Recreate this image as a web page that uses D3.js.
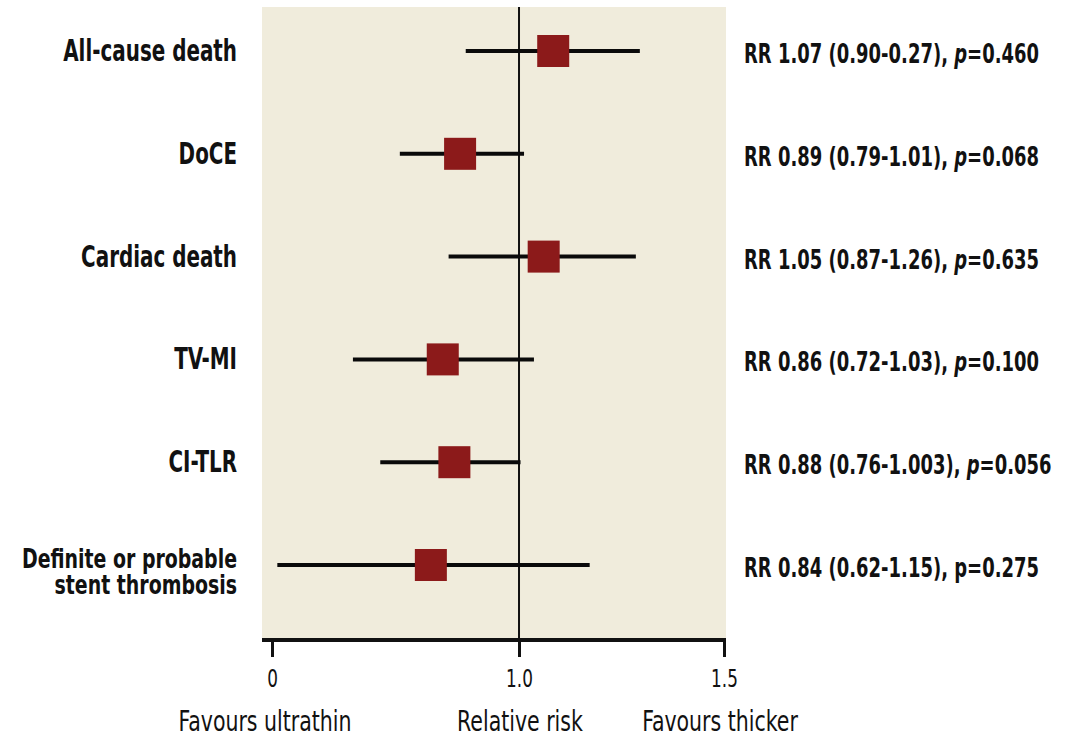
<!DOCTYPE html>
<html><head><meta charset="utf-8">
<script src="https://cdn.jsdelivr.net/npm/d3@7"></script>
<style>
body{margin:0;background:#fff;}
text{font-family:"Liberation Sans Narrow","DejaVu Sans Condensed","Roboto Condensed",sans-serif;}
</style></head>
<body><svg id="c" width="1089" height="738"></svg>
<script>
const categories = ["All-cause death","DoCE","Cardiac death","TV-MI","CI-TLR","Definite or probable\nstent thrombosis"];
const rr    = [1.07, 0.89, 1.05, 0.86, 0.88, 0.84];
const lower = [0.90, 0.79, 0.87, 0.72, 0.76, 0.62];
const upper = [1.27, 1.01, 1.26, 1.03, 1.003, 1.15];
const rrText = ["RR 1.07 (0.90-0.27), ","RR 0.89 (0.79-1.01), ","RR 1.05 (0.87-1.26), ","RR 0.86 (0.72-1.03), ","RR 0.88 (0.76-1.003), ","RR 0.84 (0.62-1.15), "];
const pValues = ["0.460","0.068","0.635","0.100","0.056","0.275"];
const pItalic = [true,true,true,true,true,false];
const tickValues = [0.6135, 1.0, 1.5];
const tickLabels = ["0","1.0","1.5"];
const axisTitles = ["Favours ultrathin","Relative risk","Favours thicker"];

const svg = d3.select("#c");
const x = d3.scaleLog().domain([0.6135, 1.5]).range([272, 724]);
const y = d3.scalePoint().domain(categories).range([51, 565]);
const panel = {left:262, right:726, top:7, bottom:640};
const FONT = "'Liberation Sans Narrow','DejaVu Sans Condensed',sans-serif";

svg.append("rect").attr("x",panel.left).attr("y",panel.top)
  .attr("width",panel.right-panel.left).attr("height",panel.bottom-panel.top)
  .attr("fill","#f0ecdc");

// reference line at RR=1
svg.append("line").attr("x1",x(1)).attr("x2",x(1)).attr("y1",panel.top).attr("y2",panel.bottom)
  .attr("stroke","#111").attr("stroke-width",2);

// axis
const axis = d3.axisBottom(x).tickValues(tickValues).tickFormat((d,i)=>tickLabels[i]).tickSize(17);
const ag = svg.append("g").attr("transform",`translate(0,${panel.bottom})`).call(axis);
ag.select(".domain").remove();
ag.append("line").attr("x1",panel.left).attr("x2",panel.right).attr("stroke","#111").attr("stroke-width",4);
ag.selectAll(".tick line").attr("stroke","#111").attr("stroke-width",3);
ag.selectAll(".tick text").attr("fill","#111").attr("y",47).attr("dy",0)
  .attr("transform","scale(0.78,1)")
  .style("font-size","24px").style("font-family",FONT);

// CI lines and points
const rows = categories.map((c,i)=>({c,i,rr:rr[i],lo:lower[i],hi:upper[i]}));
svg.selectAll("line.ci").data(rows).enter().append("line").attr("class","ci")
  .attr("x1",d=>x(d.lo)).attr("x2",d=>x(d.hi)).attr("y1",d=>y(d.c)).attr("y2",d=>y(d.c))
  .attr("stroke","#0a0a0a").attr("stroke-width",4);
svg.selectAll("rect.pt").data(rows).enter().append("rect").attr("class","pt")
  .attr("x",d=>x(d.rr)-16).attr("y",d=>y(d.c)-16).attr("width",32).attr("height",32)
  .attr("fill","#8c1a1a");

// category labels
svg.selectAll("g.cat").data(rows).enter().append("g").attr("class","cat")
  .attr("transform",d=>`translate(237,${y(d.c)}) scale(${d.c.includes("\n")?0.81:0.75},1)`)
  .each(function(d){
    const lines = d.c.split("\n");
    const t = d3.select(this).append("text").attr("text-anchor","end")
      .style("font-size", lines.length>1 ? "26px" : "29.5px").style("font-weight","bold").attr("fill","#111");
    lines.forEach((l,k)=>{
      t.append("tspan").attr("x",0)
       .attr("y", lines.length===1 ? 10 : 3 + k*26).text(l);
    });
  });

// RR labels
svg.selectAll("g.rr").data(rows).enter().append("g").attr("class","rr")
  .attr("transform",d=>`translate(744,${y(d.c)+12}) scale(0.74,1)`)
  .each(function(d){
    const t = d3.select(this).append("text")
      .style("font-size","27px").style("font-weight","bold").attr("fill","#111");
    t.append("tspan").text(rrText[d.i]);
    t.append("tspan").style("font-style",pItalic[d.i]?"italic":"normal").text("p");
    t.append("tspan").text("="+pValues[d.i]);
  });

// bottom titles
const titleX = [265, 520, 720];
svg.selectAll("g.ttl").data(axisTitles).enter().append("g").attr("class","ttl")
  .attr("transform",(d,i)=>`translate(${titleX[i]},731) scale(0.8,1)`)
  .append("text").attr("text-anchor","middle")
  .style("font-size","28.5px").attr("fill","#111").text(d=>d);
</script></body></html>
